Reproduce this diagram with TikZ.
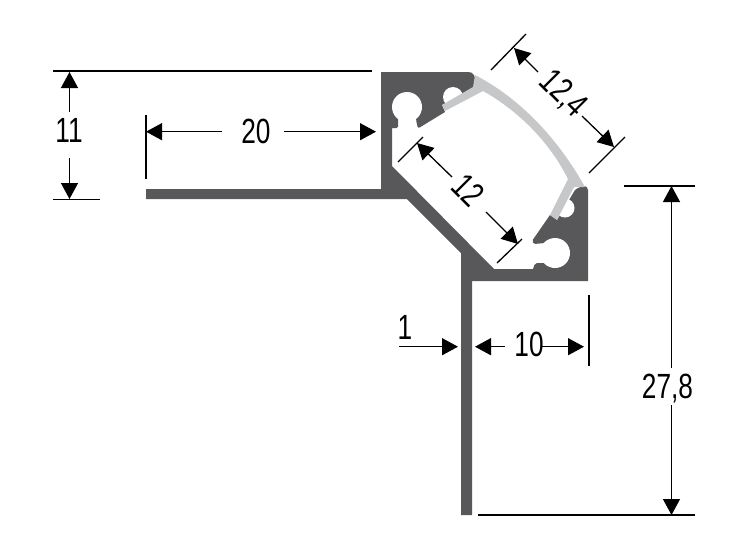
\documentclass[tikz,border=0pt]{standalone}
\usepackage{fontspec}
\setmainfont{Liberation Sans}
\usetikzlibrary{arrows.meta}

\definecolor{profilegrey}{HTML}{58585A}
\definecolor{stripgrey}{HTML}{C6C7C8}

\begin{document}
\begin{tikzpicture}[x=1pt,y=-1pt,
    profile/.style={fill=profilegrey},
    strip/.style={fill=stripgrey},
    cutout/.style={fill=white},
    dimline/.style={line width=1.3pt},
    dimarrow/.style={line width=1.3pt, -{Triangle[length=16pt,width=17pt]}},
    dimlabel/.style={font=\fontsize{35}{35}\selectfont, inner sep=0pt, xscale=.75, transform shape}
    ]

\useasboundingbox (0,0) rectangle (750,550);

% aluminium profile
\path[profile] (381,72) -- (468,72) .. controls (473,72) and (477,75) .. (474,88)
    -- (442,105) -- (445,112) [rounded corners=2pt] -- (418,128.5) -- (416,120) [sharp corners]
    -- (416,110) -- (398,110) [rounded corners=1.5pt] -- (398,128) [sharp corners] -- (392,128)
    -- (392,166) -- (494,269) -- (533,269) [rounded corners=2pt] -- (535,263) [sharp corners]
    -- (545,263) -- (545,243) [rounded corners=1.5pt] -- (534,244) -- (532,241) [sharp corners]
    -- (550,215) -- (557,220) -- (575,190) [rounded corners=4pt] -- (581,186) -- (588,186) [sharp corners]
    -- (588,281) -- (472,281) -- (472,515) -- (461,515) -- (461,253) -- (407,199) -- (146,199)
    -- (146,189) -- (381,189) -- cycle;

\node[circle, cutout, inner sep=0pt, minimum size=30pt] (holeA) at (407,107) {};
\node[circle, cutout, inner sep=0pt, minimum size=20pt] (holeB) at (453,97) {};
\node[circle, cutout, inner sep=0pt, minimum size=30pt] (holeC) at (555,253) {};
\node[circle, cutout, inner sep=0pt, minimum size=19pt] (holeD) at (565,208) {};

% diffuser
\path[strip] (475,75) .. controls (510,93) and (552,128) .. (585,187) -- (574,187) -- (557,220)
    -- (550,215) -- (568,179) .. controls (546,135) and (510,106) .. (483,91) -- (445,111)
    -- (442,105) -- (473,87) -- cycle;

% dimension 11
\coordinate (h11a) at (53,71);
\coordinate (h11b) at (372,71);
\coordinate (h11c) at (53,199.7);
\coordinate (h11d) at (100,199.7);
\coordinate (a11a) at (69.5,112);
\coordinate (a11b) at (69.5,72);
\coordinate (a11c) at (69.5,158);
\coordinate (a11d) at (69.5,199);
\node[dimlabel] (lab11) at (69,130.5) {11};
\draw[line width=2pt] (h11a) -- (h11b);
\draw[dimline] (h11c) -- (h11d);
\draw[dimarrow] (a11a) -- (a11b);
\draw[dimarrow] (a11c) -- (a11d);

% dimension 20
\coordinate (t20a) at (146,115);
\coordinate (t20b) at (146,179);
\coordinate (a20a) at (222,131.7);
\coordinate (a20b) at (146,131.7);
\coordinate (a20c) at (284,131.7);
\coordinate (a20d) at (376,131.7);
\node[dimlabel] (lab20) at (256,131.5) {20};
\draw[dimline] (t20a) -- (t20b);
\draw[dimarrow] (a20a) -- (a20b);
\draw[dimarrow] (a20c) -- (a20d);

% dimension 12,4
\coordinate (t124a) at (491,70);
\coordinate (t124b) at (526,34);
\coordinate (t124c) at (589,173);
\coordinate (t124d) at (625,137);
\coordinate (a124a) at (538,72);
\coordinate (a124b) at (514,48);
\coordinate (a124c) at (582,116);
\coordinate (a124d) at (614,147);
\node[rotate=-45, dimlabel] (lab124) at (563,94) {12,4};
\draw[dimline] (t124a) -- (t124b);
\draw[dimline] (t124c) -- (t124d);
\draw[dimarrow] (a124a) -- (a124b);
\draw[dimarrow] (a124c) -- (a124d);

% dimension 12
\coordinate (t12a) at (398,162);
\coordinate (t12b) at (423,137);
\coordinate (t12c) at (497,263);
\coordinate (t12d) at (522,239);
\coordinate (a12a) at (452,177);
\coordinate (a12b) at (417,143);
\coordinate (a12c) at (486,212);
\coordinate (a12d) at (518,244);
\node[rotate=-45, dimlabel] (lab12) at (468,190) {12};
\draw[dimline] (t12a) -- (t12b);
\draw[dimline] (t12c) -- (t12d);
\draw[dimarrow] (a12a) -- (a12b);
\draw[dimarrow] (a12c) -- (a12d);

% dimension 1
\coordinate (a1a) at (399,346.7);
\coordinate (a1b) at (458,346.7);
\node[dimlabel] (lab1) at (405,327.5) {1};
\draw[dimarrow] (a1a) -- (a1b);

% dimension 10
\coordinate (t10a) at (589,295);
\coordinate (t10b) at (589,366);
\coordinate (a10a) at (505,346.7);
\coordinate (a10b) at (475,346.7);
\coordinate (a10c) at (542,346.7);
\coordinate (a10d) at (584,346.7);
\node[dimlabel] (lab10) at (529,344) {10};
\draw[dimline] (t10a) -- (t10b);
\draw[dimarrow] (a10a) -- (a10b);
\draw[dimarrow] (a10c) -- (a10d);

% dimension 27,8
\coordinate (h278a) at (624,186);
\coordinate (h278b) at (695,186);
\coordinate (h278c) at (478,515);
\coordinate (h278d) at (695,515);
\coordinate (a278a) at (671.5,368);
\coordinate (a278b) at (671.5,186);
\coordinate (a278c) at (671.5,405);
\coordinate (a278d) at (671.5,515);
\node[dimlabel] (lab278) at (667.5,389) {27,8};
\draw[dimline] (h278a) -- (h278b);
\draw[dimline] (h278c) -- (h278d);
\draw[dimarrow] (a278a) -- (a278b);
\draw[dimarrow] (a278c) -- (a278d);

\end{tikzpicture}
\end{document}
